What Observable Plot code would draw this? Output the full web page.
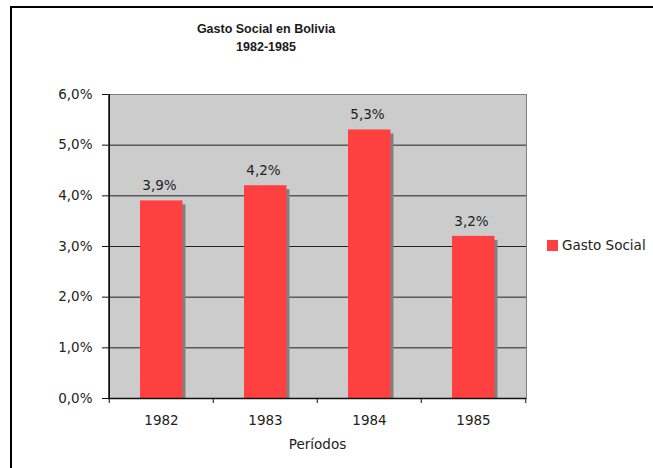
<!DOCTYPE html>
<html>
<head>
<meta charset="utf-8">
<script src="https://cdn.jsdelivr.net/npm/d3@7"></script>
<script src="https://cdn.jsdelivr.net/npm/@observablehq/plot@0.6"></script>
<style>
  html, body { margin: 0; padding: 0; background: #fff; }
  #wrap { position: relative; width: 653px; height: 468px; overflow: hidden; font-family: "DejaVu Sans", sans-serif; }
  #border { position: absolute; left: 10px; top: 6px; right: -10px; bottom: -10px; border-top: 2px solid #000; border-left: 2px solid #000; }
  #chart { position: absolute; left: 0; top: 0; }
  #title { position: absolute; left: 166px; width: 200px; top: 20px; text-align: center; font-family: "Liberation Sans", Arial, sans-serif; font-weight: bold; font-size: 12.5px; line-height: 18px; color: #1a1a1a; }
  #legend { position: absolute; left: 547px; top: 237px; font-size: 13.5px; color: #222; display: flex; align-items: center; }
  #legend .sw { width: 11px; height: 11px; background: #ff4040; margin-right: 4px; }
</style>
</head>
<body>
<div id="wrap">
  <div id="border"></div>
  <div id="chart"></div>
  <div id="title">Gasto Social en Bolivia<br>1982-1985</div>
  <div id="legend"><span class="sw"></span><span>Gasto Social</span></div>
</div>
<script>
const years = ["1982", "1983", "1984", "1985"];
const gastoSocial = [3.9, 4.2, 5.3, 3.2];
const gridValues = [1, 2, 3, 4, 5];
const yTicks = [0, 1, 2, 3, 4, 5, 6];
const axisTitle = "Períodos";

const data = years.map((y, i) => ({year: y, value: gastoSocial[i]}));
const fmt = d => d.toFixed(1).replace(".", ",") + "%";

const W = 653, H = 468, mL = 108, mR = 127, mT = 94, mB = 70;
const band = (W - mL - mR) / years.length;

const chart = Plot.plot({
  width: W,
  height: H,
  marginLeft: mL,
  marginRight: mR,
  marginTop: mT,
  marginBottom: mB,
  style: {fontFamily: "DejaVu Sans, sans-serif", fontSize: "13.5px", color: "#222", background: "transparent"},
  x: {type: "band", domain: years, padding: 0},
  y: {domain: [0, 6]},
  marks: [
    Plot.frame({fill: "#cccccc", stroke: "#808080"}),
    Plot.ruleY(gridValues, {stroke: "#222", strokeWidth: 1}),
    Plot.barY(data, {x: "year", y: "value", fill: "#808080", insetLeft: 34, insetRight: 27.5, insetTop: 4}),
    Plot.barY(data, {x: "year", y: "value", fill: "#ff4040", insetLeft: 31, insetRight: 30.5}),
    Plot.ruleY([0], {stroke: "#111", strokeWidth: 1.5}),
    Plot.ruleX([years[0]], {x: d => d, dx: -band / 2, stroke: "#111", strokeWidth: 1.5}),
    Plot.ruleX(years, {x: d => d, dx: -band / 2, insetTop: H - mT - mB, insetBottom: -5, stroke: "#111"}),
    Plot.ruleX([years[years.length - 1]], {x: d => d, dx: band / 2, insetTop: H - mT - mB, insetBottom: -5, stroke: "#111"}),
    Plot.axisY(yTicks, {tickSize: 6, tickPadding: 10, tickFormat: fmt, label: null, stroke: "#111", fill: "#222"}),
    Plot.axisX({tickSize: 0, tickPadding: 17, label: null, fill: "#222"}),
    Plot.text(data, {x: "year", y: "value", text: d => fmt(d.value), dy: -15, dx: -2, lineAnchor: "middle", fill: "#222"}),
    Plot.text([axisTitle], {frameAnchor: "bottom", text: d => d, dy: 46, lineAnchor: "middle", fill: "#222"})
  ]
});
document.getElementById("chart").appendChild(chart);
</script>
</body>
</html>
